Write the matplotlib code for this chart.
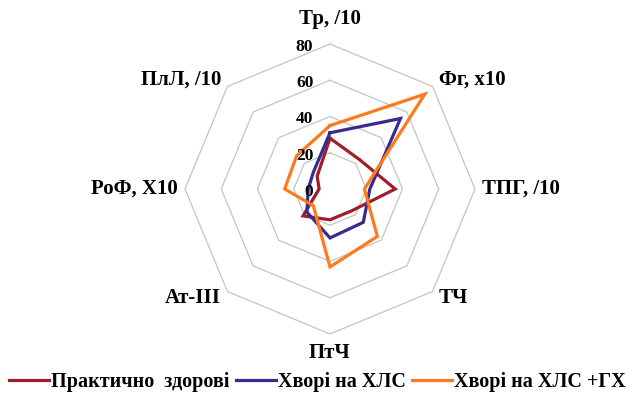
import numpy as np
import matplotlib.pyplot as plt

plt.rcParams['font.family'] = ['Liberation Serif', 'DejaVu Serif']

# indicators around the radar, clockwise from the top
axis_labels = ["Тр, /10", "Фг, х10", "ТПГ, /10", "ТЧ", "ПтЧ", "Ат-ІІІ", "РоФ, Х10", "ПлЛ, /10"]

healthy = [28, 23, 36, 17, 17, 21, 6, 10]
hls = [31, 55, 22, 26, 27, 18, 12, 13]
hls_gh = [35, 74, 19, 37, 43, 13, 25, 26]

series_names = ["Практично  здорові", "Хворі на ХЛС", "Хворі на ХЛС +ГХ"]
colors = ["#A01E2C", "#3A2A8E", "#FF7A1C"]

rings = [20, 40, 60, 80]
r_ticks = [0, 20, 40, 60, 80]

fig = plt.figure(figsize=(6.35, 3.96), dpi=100)
ax = fig.add_axes([0.2913, 0.1566, 0.4567, 0.7323], projection='polar')
ax.set_theta_zero_location('N')
ax.set_theta_direction(-1)
ax.set_ylim(0, 80)
ax.grid(False)
ax.spines['polar'].set_visible(False)
ax.set_xticks([])
ax.set_yticks([])

n = len(axis_labels)
theta = np.linspace(0, 2 * np.pi, n, endpoint=False)
closed = np.append(theta, theta[0])

# octagonal grid
for r in rings:
    ax.plot(closed, [r] * (n + 1), color='#C4C4C4', lw=0.9, zorder=1, clip_on=False)

# data polygons
lines = []
for vals, col in zip([healthy, hls, hls_gh], colors):
    ln, = ax.plot(closed, vals + vals[:1], color=col, lw=2.3, zorder=3,
                  solid_joinstyle='miter')
    lines.append(ln)

# category labels
label_pos = [
    (88, 'center', 'bottom'),
    (85, 'left', 'center'),
    (84, 'left', 'center'),
    (85, 'left', 'center'),
    (85, 'center', 'top'),
    (85, 'right', 'center'),
    (84, 'right', 'center'),
    (85, 'right', 'center'),
]
for t, lab, (r, ha, va) in zip(theta, axis_labels, label_pos):
    ax.text(t, r, lab, ha=ha, va=va, fontsize=15, fontweight='bold')

# radial scale labels on the vertical axis
for r in r_ticks:
    ax.annotate(str(r), xy=(0, r), xytext=(-12, -2), textcoords='offset points',
                ha='right', va='center', fontsize=12.5, fontweight='bold')

fig.legend(lines, series_names, loc='lower center', bbox_to_anchor=(0.5, -0.035),
           ncol=3, frameon=False, handlelength=2.0, handletextpad=0.1,
           columnspacing=0.3, prop=dict(weight='bold', size=14.5))

fig.savefig('out.png', dpi=100)
